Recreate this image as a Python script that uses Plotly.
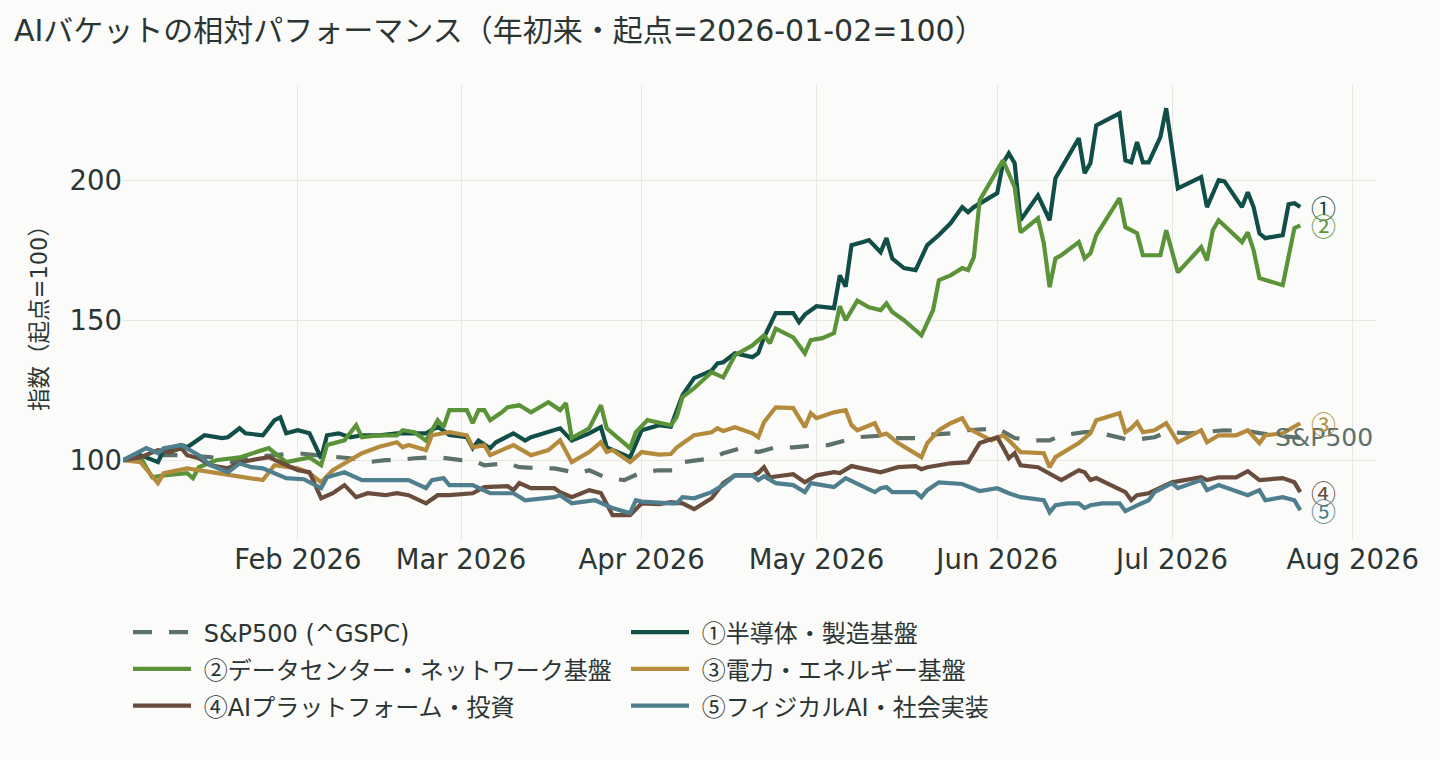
import numpy as np
import plotly.graph_objects as go

START = np.datetime64("2026-01-02")

# ---- data: calendar-day offsets from START and index values (start = 100) ----
sp_days = [0,4,7,10,15,19,20,30,33,36,39,42,45,47,50,54,56,58,60,62,66,68,72,74,78,80,83,86,89,92,95,96,101,103,106,109,112,115,119,121,124,126,131,132,136,137,142,145,150,153,156,159,161,165,167,171,173,177,179,183,185,189,193,195,197,202]
sp_vals = [100,101.8,101.8,101.8,101.1,99.3,100.7,102.5,101.8,101.1,100.7,99.3,100,100,100.7,101.1,100.4,100,100,98.2,98.9,97.5,97.1,97.1,95.4,96.4,93.6,92.9,95.7,96.4,96.4,99.3,100.7,102.5,104.3,102.9,104.6,104.6,105.4,105.4,107.1,108.2,108.9,107.9,107.9,108.9,109.6,110.7,111.4,107.9,107.1,107.1,108.9,110,110,107.9,107.1,108.2,110,109.6,110,110.7,110.4,109.6,109,108]

b1_days = [0,3,6,7,10,11,14,17,18,20,21,24,26,27,28,30,32,34,35,37,39,41,44,47,52,54,56,59,60,61,63,64,67,69,70,74,75,77,80,82,83,87,89,92,94,96,98,101,102,103,105,108,109,110,112,115,116,117,119,122,123,124,125,127,128,130,131,132,134,136,138,140,142,144,145,146,150,151,152,153,154,157,159,160,164,165,166,167,171,172,173,174,175,176,178,179,181,185,186,188,189,192,193,194,195,196,199,200,201,202]
b1_vals = [100,101.8,99.3,103.6,105.4,104.6,108.9,107.9,108.2,111.4,109.6,108.9,114.3,115.3,109.6,110.7,109.6,100.7,108.9,109.6,108.2,108.9,108.9,109.6,109.6,112,109,108.2,104.3,107,104.3,106.4,109.6,107,108.2,110.7,111.4,107,109.6,111.8,104.6,101,110.7,112.5,112,123.2,129.3,132,134.6,135,138.2,136.8,138.2,143.9,152.5,152.5,149.3,152,155,154.3,166,162,176.8,177.9,178.6,174.3,179.3,172,168.6,167.9,176.8,180.4,184.6,190.4,188.6,190.4,195.4,206.1,209.6,206.1,185.7,194.6,185.7,200.7,215,202.5,206.1,219.6,223.9,207.1,206.4,213.6,206.4,206.4,215.4,225.7,197.1,201.1,190.4,200,199.6,190.4,195.7,190.4,181,179.3,180.4,191.4,191.8,190.4]

b2_days = [0,3,5,7,11,12,13,16,20,25,28,32,34,35,38,40,41,44,47,48,50,52,54,55,56,59,60,61,62,63,65,66,68,70,73,75,76,77,80,82,83,87,88,90,94,95,96,98,101,103,105,108,110,111,112,115,117,118,120,122,123,124,126,128,130,131,132,134,136,137,139,140,142,144,145,146,147,151,153,154,157,158,159,160,161,164,165,166,167,171,172,174,175,178,179,181,185,186,187,188,192,193,194,195,199,200,201,202]
b2_vals = [100,101,93.9,94.6,95.4,93.6,97.5,100,101,104.3,99.3,101,98.2,105.4,107.1,112.5,108.2,108.9,108.9,110.7,110,107,114.3,111.8,117.9,117.9,113.2,117.9,117.9,114.3,117.1,118.9,119.6,117.1,120.7,117.9,120.4,107.9,111.4,119.6,111.4,104.3,110,114.3,112.5,115.4,122.5,125.7,131.4,129.6,137.5,141,144.6,141.8,147,143.9,138.2,142.9,143.6,145.4,155,150,157,154.6,153.6,156,152.9,150,146.4,144.6,153.6,164.3,166,168.6,167.9,172.5,192.9,207.1,197.5,181.4,186.4,177.5,161.8,172.1,173.2,177.9,172.1,173.9,180.4,193.6,183.2,181.1,173.2,173.2,182.1,167.1,176.1,171.4,182.1,185.7,177.9,181.4,175,165,162.5,172,182.9,183.9]

b3_days = [0,3,6,7,11,13,19,24,26,30,32,34,36,38,41,44,47,48,49,52,53,56,59,60,62,63,67,70,73,75,77,80,82,83,84,87,89,92,94,95,96,98,101,102,103,105,108,109,110,112,115,117,118,119,122,124,125,126,129,130,131,133,137,138,140,142,144,145,149,151,152,154,158,159,160,164,166,167,171,172,173,174,175,177,179,181,185,186,188,191,193,195,196,199,202]
b3_vals = [100,99.3,91.8,95.4,97.1,96.4,94.6,92.9,98.2,97.1,95.4,92.1,96.4,98.9,102.5,104.8,106.4,104.6,105.4,103.6,108.9,110,108.9,104.6,105.4,101.8,105.4,101.8,103.6,107.1,99.3,102.9,106.4,102.9,103.6,99.3,102.9,102,102.2,104.5,106,108.9,110,111.4,110.4,111.8,109.6,108.2,113.6,118.9,118.6,111.8,116.8,115,117.1,117.9,112.5,110.7,113.2,108.9,109.5,106.1,101.1,106.1,110.7,113.2,115,111.4,107.1,108.9,107.1,102.9,102.5,97.5,101.1,106.1,109.6,114.3,116.8,110,111.4,113.6,110,110.7,113.2,106.4,110.7,106.4,108.9,108.9,110.7,106.1,108.9,109.6,113.2]

b4_days = [0,3,6,8,10,11,13,15,18,20,25,27,30,32,34,36,38,40,42,45,47,49,52,54,56,60,62,66,67,68,70,74,75,77,80,82,84,87,89,92,94,96,98,101,103,105,108,109,110,111,115,117,119,122,123,125,128,130,133,136,137,138,142,145,147,150,151,152,153,154,157,161,164,165,166,167,172,173,174,176,180,185,186,188,191,193,195,199,201,202]
b4_vals = [100,101.1,103.6,102.9,104.3,101.8,100.7,98.2,97.1,99.3,101.1,99.3,96.4,95.7,86.4,88.2,91.1,86.8,88.2,87.5,88.2,87.5,84.6,87.5,87.5,88.2,90.4,90.7,89.3,91.8,90,90,88.6,86.8,89.3,88.3,80.4,80.4,84.6,84.3,85,84.6,82.5,86.4,91.8,94.6,94.6,95.4,97.5,93.9,95,92.1,94.6,95.7,95.4,97.9,96.8,95.7,97.5,97.9,96.8,97.5,98.9,99.3,106.1,108.2,104.6,100.7,102.5,98.2,97.5,92.9,96.4,95.7,92.9,93.6,88.6,85.7,87.5,88.2,92.1,93.9,92.9,93.9,93.9,96.1,92.9,93.6,92.1,88.6]

b5_days = [0,4,6,7,10,13,15,18,20,22,24,28,31,34,35,38,41,44,49,52,53,55,56,60,63,67,69,74,75,77,81,84,87,88,89,94,95,96,98,101,103,105,108,109,110,112,115,117,118,120,122,124,127,129,130,131,132,136,137,138,140,144,147,150,152,153,154,158,159,160,162,164,165,166,168,171,172,174,176,177,180,181,185,186,188,193,195,196,199,201,202]
b5_vals = [100,104.3,102.5,104.3,105.4,101.8,98.2,95.7,98.9,97.5,97.1,93.6,93.2,90,93.9,95.7,92.9,92.9,92.9,90,92.9,93.6,91.1,91.1,88.2,88.2,85.7,86.8,87.5,84.6,85.7,82.9,81.1,85.7,85.2,84.6,84.6,86.8,86.4,88.6,91.1,94.6,94.6,92.9,94.3,91.8,91.1,88.6,91.8,91.1,90.4,93.6,90.7,88.6,90,90.4,88.6,88.6,86.8,89.3,92.1,91.5,89,90,88.2,87.5,86.8,85.7,81.4,83.9,84.6,84.6,82.9,83.9,84.6,84.6,81.8,83.9,85.7,88.6,91.8,90,92.9,89.3,91.1,87.5,89.3,85.7,86.8,85.7,82.1]

names = ["S&P500 (^GSPC)", "①半導体・製造基盤", "②データセンター・ネットワーク基盤",
         "③電力・エネルギー基盤", "④AIプラットフォーム・投資", "⑤フィジカルAI・社会実装"]
end_labels = ["S&P500", "①", "②", "③", "④", "⑤"]
colors = ["#5d716b", "#124e48", "#5b9338", "#b48a3c", "#6a4c3c", "#4f7f8e"]
series = [(sp_days, sp_vals), (b1_days, b1_vals), (b2_days, b2_vals),
          (b3_days, b3_vals), (b4_days, b4_vals), (b5_days, b5_vals)]

FONT = "DejaVu Sans, Noto Sans CJK JP, sans-serif"
CJK = "Noto Sans CJK JP"
TEXT = "#2b3634"
BG = "#fbfbf9"


def circled_cjk(s):
    """Render circled digits with the CJK font (full-size circles)."""
    out = []
    for ch in s:
        if "\u2460" <= ch <= "\u2473":
            out.append('<span style="font-family:%s">%s</span>' % (CJK, ch))
        else:
            out.append(ch)
    return "".join(out)


def legend_label(s):
    return '<span style="font-size:24px"> %s</span>' % circled_cjk(s)


fig = go.Figure()
annotations = []
last_date = START
for i, ((d, v), name, col) in enumerate(zip(series, names, colors)):
    assert len(d) == len(v), name
    dates = START + np.array(d, dtype="timedelta64[D]")
    fig.add_trace(go.Scatter(
        x=dates.astype(str), y=v, mode="lines", name=legend_label(name),
        line=dict(color=col, width=4.2, dash="19px,17px" if i == 0 else "solid"),
    ))
    last_date = max(last_date, dates[-1])
    annotations.append(dict(
        x=str(dates[-1] + np.timedelta64(4, "D")), y=v[-1], xref="x", yref="y",
        text=circled_cjk(end_labels[i]), showarrow=False,
        xanchor="center", yanchor="middle",
        font=dict(family=FONT, size=25, color=col),
    ))

fig.update_layout(
    width=1440, height=760,
    paper_bgcolor=BG, plot_bgcolor=BG,
    font=dict(family=FONT, color=TEXT, size=24),
    margin=dict(l=123, r=64, t=85, b=220),
    title=dict(text="AIバケットの相対パフォーマンス（年初来・起点=2026-01-02=100）",
               x=14 / 1440, xanchor="left", y=1 - 30 / 760, yanchor="middle",
               font=dict(family=FONT, size=30, color=TEXT)),
    xaxis=dict(range=[str(START), str(last_date + np.timedelta64(13, "D"))],
               dtick="M1", tick0="2026-02-01", tickformat="%b %Y",
               showgrid=True, gridcolor="#e7e7e4", gridwidth=1,
               zeroline=False, showline=False, ticks="",
               tickfont=dict(size=27.5, color=TEXT)),
    yaxis=dict(range=[71.5, 234], tickvals=[100, 150, 200],
               showgrid=True, gridcolor="#e7e7e4", gridwidth=1,
               zeroline=False, showline=False, ticks="",
               tickfont=dict(size=27.5, color=TEXT),
               title=dict(text="指数（起点=100）", font=dict(size=22.5, color=TEXT))),
    legend=dict(orientation="h", x=0.004, xanchor="left", y=-0.151, yanchor="top",
                entrywidth=425, entrywidthmode="pixels", itemwidth=58,
                font=dict(size=26, color=TEXT), bgcolor="rgba(0,0,0,0)"),
    annotations=annotations,
    showlegend=True,
)

fig.write_html("out.html")
